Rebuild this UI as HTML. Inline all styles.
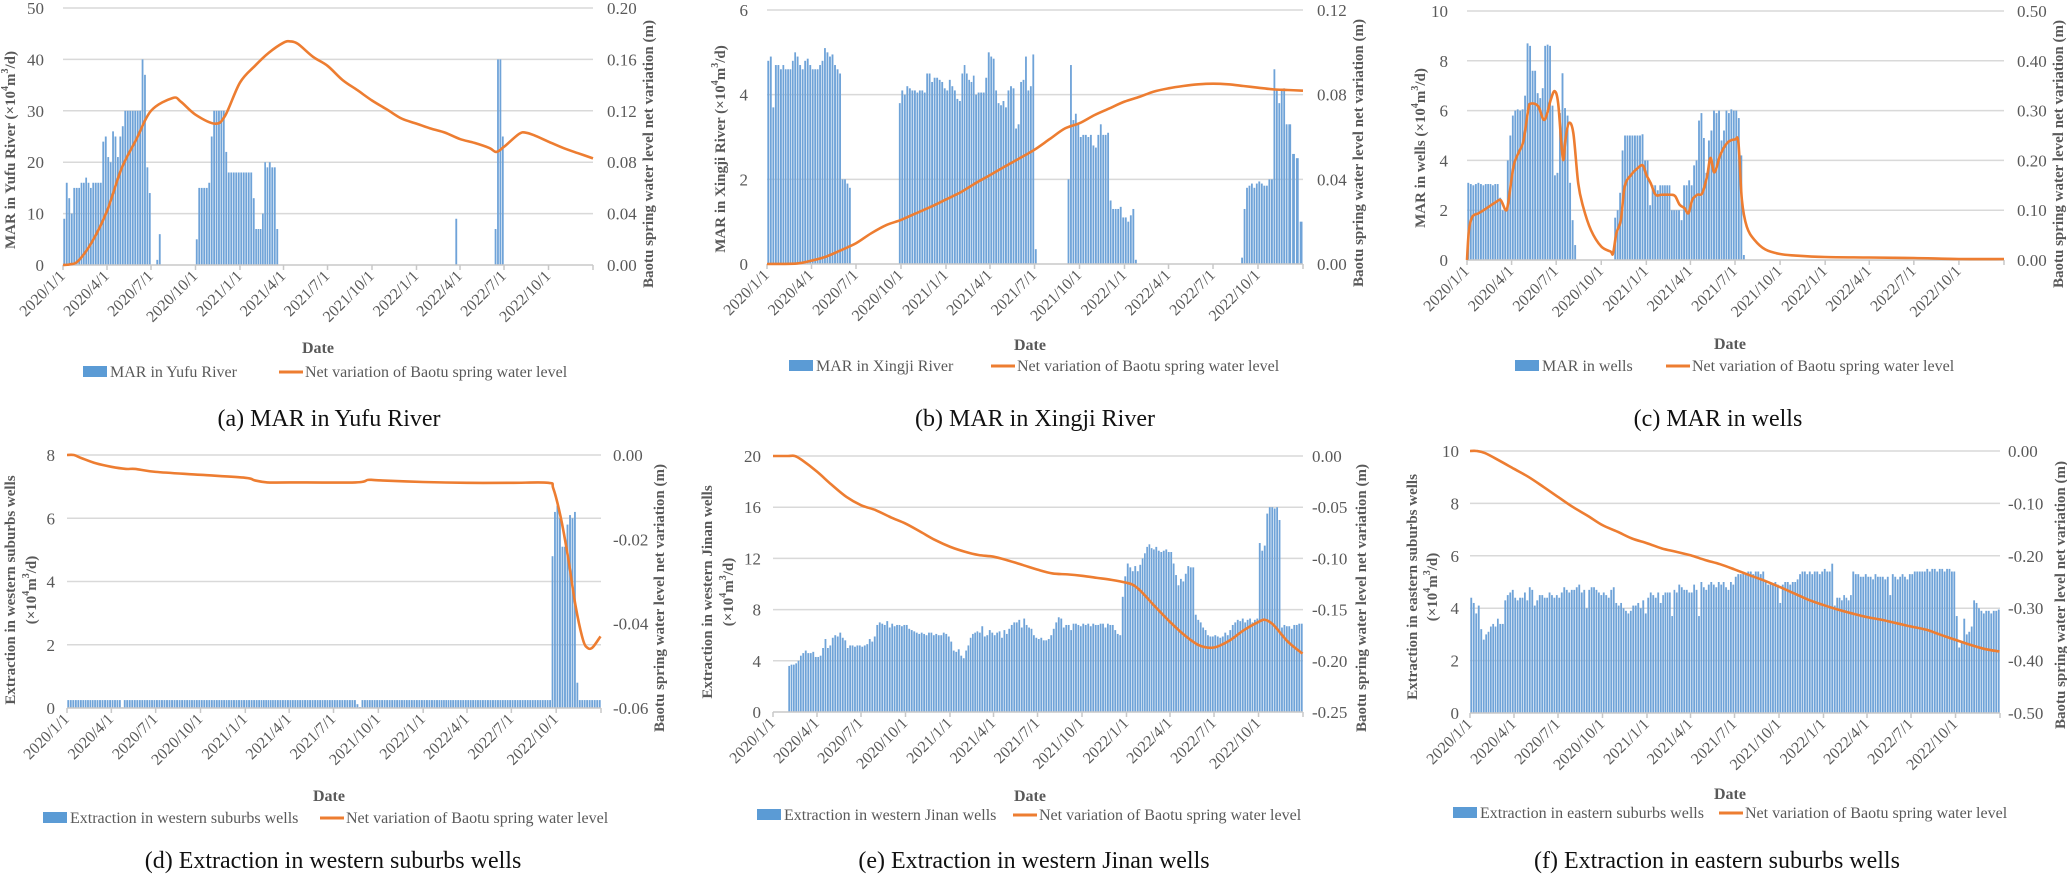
<!DOCTYPE html>
<html><head><meta charset="utf-8"><style>
html,body{margin:0;padding:0;background:#fff;}
svg{display:block;font-family:"Liberation Serif","DejaVu Serif",serif;}
svg text{font-family:"Liberation Serif","DejaVu Serif",serif;}
</style></head><body>
<svg id="fig" width="2067" height="875" viewBox="0 0 2067 875" font-family="Liberation Serif, serif" xmlns="http://www.w3.org/2000/svg"></svg>
<script>
// ---------- shared categories ----------
const tickLabels = ["2020/1/1","2020/4/1","2020/7/1","2020/10/1","2021/1/1","2021/4/1","2021/7/1","2021/10/1","2022/1/1","2022/4/1","2022/7/1","2022/10/1"];
const tickDates = ["2020-01-01","2020-04-01","2020-07-01","2020-10-01","2021-01-01","2021-04-01","2021-07-01","2021-10-01","2022-01-01","2022-04-01","2022-07-01","2022-10-01","2023-01-01"];

// ---------- (a) MAR in Yufu River: bars per month (36 months) ----------
const aBars = [
[9,16,13,10,15,15],[15,16,16,17,16,15],[16,16,16,16,24,25],[21,20,26,25,21,25],[27,30,30,30,30,30],[30,30,40,37,19,14],
[0,0,1,6,0,0],[],[],[5,15,15,15,15,16],[25,30,30,30,30,30],[22,18,18,18,18,18],
[18,18,18,18,18,13],[7,7,7,10,20,19],[20,19,19,7,0,0],[],[],[],
[],[],[],[],[],[],
[],[],[0,0,0,0,9,0],[],[],[0,0,7,40,40,25],
[],[],[],[],[],[]];
const aLineDates = ["2020-01-01","2020-01-15","2020-02-01","2020-03-01","2020-04-01","2020-05-01","2020-06-01","2020-07-01","2020-08-15","2020-09-01","2020-10-01","2020-11-10","2020-12-01","2021-01-01","2021-02-01","2021-03-01","2021-04-01","2021-04-15","2021-05-01","2021-06-01","2021-07-01","2021-08-01","2021-09-01","2021-10-01","2021-11-01","2021-12-01","2022-01-01","2022-02-01","2022-03-01","2022-04-01","2022-05-01","2022-06-01","2022-06-15","2022-07-01","2022-08-01","2022-08-15","2022-09-01","2022-10-01","2022-11-01","2022-12-01","2023-01-01"];
const aLineValues = [0,0.0005,0.003,0.018,0.042,0.075,0.098,0.12,0.13,0.127,0.117,0.110,0.116,0.142,0.155,0.165,0.173,0.174,0.172,0.162,0.155,0.144,0.136,0.128,0.121,0.114,0.110,0.106,0.103,0.098,0.095,0.091,0.088,0.092,0.102,0.103,0.101,0.096,0.091,0.087,0.083];

// ---------- (b) MAR in Xingji River ----------
const bBars = [
[4.8,4.9,3.7,4.7,4.7,4.6],[4.7,4.6,4.6,4.6,4.8,5.0],[4.9,4.7,4.6,4.8,4.85,4.7],[4.6,4.6,4.6,4.7,4.8,5.1],[5.0,4.9,4.95,4.7,4.6,4.5],[2.0,2.0,1.9,1.8,0,0],
[],[],[0,0,0,0,0,3.8],[4.1,4.0,4.2,4.15,4.1,4.1],[4.05,4.1,4.1,4.05,4.5,4.5],[4.3,4.4,4.4,4.35,4.3,4.15],
[4.1,4.35,4.2,4.1,3.9,3.85],[4.5,4.7,4.5,4.35,4.3,4.45],[4.0,4.05,4.05,4.05,4.4,5.0],[4.9,4.85,4.1,3.8,3.75,3.85],[3.7,4.1,4.2,4.15,3.2,3.3],[4.3,4.35,4.9,4.1,4.2,4.95],
[0.35,0,0,0,0,0],[],[0,2.0,4.7,3.4,3.55,3.3],[3.0,3.05,3.05,3.0,3.05,2.8],[2.75,3.05,3.3,3.05,3.05,3.1],[1.5,1.3,1.3,1.3,1.35,1.1],
[1.1,1.0,1.15,1.3,0.1,0],[],[],[],[],[],
[],[0,0,0,0,0,0.15],[1.3,1.8,1.85,1.9,1.8,1.9],[1.95,1.9,1.85,1.85,2.0,2.0],[4.6,4.1,3.8,4.1,4.15,3.3],[3.3,2.6,2.5,1.0]];
const bLineDates = ["2020-01-01","2020-03-01","2020-04-01","2020-05-01","2020-06-01","2020-07-01","2020-08-01","2020-09-01","2020-10-01","2020-11-01","2020-12-01","2021-01-01","2021-02-01","2021-03-01","2021-04-01","2021-05-01","2021-06-01","2021-07-01","2021-08-01","2021-09-01","2021-10-01","2021-11-01","2021-12-01","2022-01-01","2022-02-01","2022-03-01","2022-04-01","2022-05-01","2022-06-01","2022-07-01","2022-08-01","2022-09-01","2022-10-01","2022-11-01","2022-12-01","2023-01-01"];
const bLineValues = [0,0.0002,0.0016,0.0035,0.0066,0.0098,0.0145,0.0184,0.0208,0.024,0.027,0.0305,0.034,0.038,0.042,0.046,0.050,0.054,0.059,0.064,0.0665,0.0704,0.0735,0.0767,0.079,0.0814,0.083,0.0841,0.0849,0.0852,0.0849,0.0841,0.0833,0.0825,0.0822,0.0819];

// ---------- (c) MAR in wells ----------
const cBars = [
[3.1,3.05,3.0,3.05,3.1,3.05],[3.0,3.05,3.05,3.05,3.0,3.05],[3.05,2.5,2.0,2.0,4.0,5.0],[5.8,6.0,6.05,6.0,6.05,6.6],[8.7,8.6,7.6,7.6,6.7,6.5],[6.9,8.6,8.65,8.6,6.2,3.4],
[3.5,5.9,7.5,6.1,5.8,3.1],[1.6,0.6,0,0,0,0],[],[0,0,0,0,0,1.7],[2.0,2.7,4.4,5.0,5.0,5.0],[5.0,5.0,5.0,5.0,5.05,4.0],
[4.0,2.2,3.0,3.0,2.8,3.0],[3.0,3.0,3.0,3.0,2.0,2.0],[2.0,2.0,1.6,3.0,3.0,3.2],[3.0,3.8,4.0,5.6,5.9,4.9],[3.5,4.8,5.2,6.0,5.9,6.0],[4.8,5.2,6.0,5.9,6.05,6.0],
[6.0,5.7,4.2,0.2,0,0],[],[],[],[],[],
[],[],[],[],[],[],
[],[],[],[],[],[]];
const cLineDates = ["2020-01-01","2020-01-05","2020-01-12","2020-01-25","2020-02-10","2020-03-01","2020-03-10","2020-03-20","2020-03-25","2020-04-05","2020-04-15","2020-04-25","2020-05-05","2020-05-10","2020-05-25","2020-06-05","2020-06-12","2020-06-20","2020-06-28","2020-07-05","2020-07-12","2020-07-16","2020-07-20","2020-07-27","2020-08-05","2020-08-15","2020-08-25","2020-09-10","2020-10-01","2020-10-20","2020-10-25","2020-11-01","2020-11-10","2020-11-18","2020-12-01","2020-12-15","2020-12-25","2021-01-01","2021-01-10","2021-01-20","2021-02-01","2021-02-20","2021-03-01","2021-03-10","2021-03-20","2021-03-28","2021-04-05","2021-04-15","2021-04-25","2021-05-05","2021-05-12","2021-05-20","2021-06-01","2021-06-15","2021-07-01","2021-07-08","2021-07-15","2021-07-25","2021-08-10","2021-09-01","2021-10-01","2021-11-01","2022-01-01","2022-04-01","2022-07-01","2022-10-01","2023-01-01"];
const cLineValues = [0,0.06,0.087,0.094,0.104,0.117,0.12,0.10,0.114,0.188,0.215,0.238,0.302,0.314,0.309,0.282,0.292,0.322,0.339,0.315,0.228,0.201,0.242,0.275,0.255,0.154,0.107,0.06,0.027,0.017,0.013,0.054,0.08,0.148,0.171,0.185,0.19,0.171,0.154,0.131,0.131,0.131,0.128,0.111,0.104,0.094,0.121,0.131,0.134,0.168,0.205,0.176,0.211,0.235,0.242,0.235,0.121,0.067,0.04,0.021,0.012,0.009,0.006,0.005,0.004,0.002,0.002];

// ---------- (d) Extraction in western suburbs wells ----------
const q = 0.25;
const dBars = [
[q,q,q,q,q,q],[q,q,q,q,q,q],[q,q,q,q,q,q],[q,q,q,q,0.02,q],[q,q,q,q,q,q],[q,q,q,q,q,q],
[q,q,q,q,q,q],[q,q,q,q,q,q],[q,q,q,q,q,q],[q,q,q,q,q,q],[q,q,q,q,q,q],[q,q,q,q,q,q],
[q,q,q,q,q,q],[q,q,q,q,q,q],[q,q,q,q,q,q],[q,q,q,q,q,q],[q,q,q,q,q,q],[q,q,q,q,q,q],
[q,q,q,q,q,q],[q,q,q,0.12,0.03,q],[q,q,q,q,q,q],[q,q,q,q,q,q],[q,q,q,q,q,q],[q,q,q,q,q,q],
[q,q,q,q,q,q],[q,q,q,q,q,q],[q,q,q,q,q,q],[q,q,q,q,q,q],[q,q,q,q,q,q],[q,q,q,q,q,q],
[q,q,q,q,q,q],[q,q,q,q,q,q],[q,q,q,q,4.8,6.2],[6.4,6.0,5.1,5.1,5.8,6.1],[6.0,6.2,0.8,q,q,q],[q,q,q,q,q,q]];
const dLineDates = ["2020-01-01","2020-01-15","2020-02-01","2020-03-01","2020-04-01","2020-05-01","2020-05-20","2020-07-01","2020-10-01","2021-01-01","2021-01-20","2021-02-15","2021-04-01","2021-08-15","2021-09-10","2021-10-01","2022-01-01","2022-04-01","2022-07-01","2022-09-15","2022-09-25","2022-10-10","2022-10-25","2022-11-10","2022-11-25","2022-12-05","2022-12-15","2022-12-31"];
const dLineValues = [0,0,-0.0008,-0.002,-0.0028,-0.0033,-0.0033,-0.004,-0.0047,-0.0054,-0.006,-0.0065,-0.0065,-0.0065,-0.0059,-0.006,-0.0064,-0.0066,-0.0066,-0.0066,-0.0079,-0.0146,-0.024,-0.0359,-0.0438,-0.0458,-0.0456,-0.043];

// ---------- (e) Extraction in western Jinan wells ----------
const eBars = [
[],[3.6,3.7,3.7,3.8,4.0,4.4],[4.6,4.8,4.6,4.6,4.7,4.3],[4.3,4.4,5.0,5.7,5.0,5.2],[5.8,6.0,5.9,6.2,5.8,5.6],[5.0,5.2,5.2,5.1,5.2,5.2],
[5.1,5.2,5.3,5.7,5.5,5.9],[6.8,7.0,6.9,6.8,7.1,6.6],[6.9,6.7,6.8,6.8,6.7,6.8],[6.8,6.5,6.4,6.3,6.2,6.1],[6.2,6.1,6.0,6.2,6.2,6.0],[6.1,6.0,6.0,6.2,6.1,5.9],
[5.5,4.8,4.7,4.9,4.4,4.2],[4.8,5.2,5.8,6.1,6.2,6.3],[6.2,6.7,5.9,6.0,6.4,6.2],[6.0,6.2,6.3,5.8,6.4,6.1],[6.5,6.8,7.0,7.0,7.2,6.6],[7.3,6.8,6.6,6.5,6.0,5.8],
[5.7,5.8,5.6,5.6,5.7,6.0],[6.5,7.0,7.4,7.3,6.6,6.8],[6.8,6.4,6.9,6.9,6.8,6.7],[6.9,6.8,6.9,6.7,6.9,6.8],[6.8,6.9,6.9,6.6,6.9,6.8],[6.8,6.4,6.1,6.0,9.0,10.6],
[11.6,11.3,11.0,11.4,11.0,11.5],[12.0,12.4,12.9,13.1,12.8,12.7],[12.9,12.6,12.5,12.6,12.7,12.5],[12.5,11.6,10.7,9.9,10.4,10.2],[10.8,11.4,11.3,11.3,7.6,7.2],[7.0,6.6,6.4,6.0,5.9,5.9],
[6.0,5.9,5.8,5.9,6.2,6.0],[6.4,6.8,7.0,7.2,7.1,7.3],[7.0,7.2,7.3,7.0,7.2,7.3],[13.2,12.6,13.0,15.5,16.0,16.0],[15.9,16.0,15.0,6.6,6.8,6.7],[6.7,6.5,6.8,6.8,6.9,6.9]];
const eLineDates = ["2020-01-01","2020-02-01","2020-02-15","2020-03-01","2020-04-01","2020-05-01","2020-06-01","2020-07-01","2020-08-01","2020-09-01","2020-10-01","2020-11-01","2020-12-01","2021-01-01","2021-02-01","2021-03-01","2021-04-01","2021-05-01","2021-06-01","2021-07-01","2021-08-01","2021-09-01","2021-10-01","2021-11-01","2021-12-01","2022-01-01","2022-01-15","2022-02-01","2022-03-01","2022-04-01","2022-05-01","2022-06-01","2022-07-01","2022-08-01","2022-09-01","2022-10-01","2022-10-15","2022-11-01","2022-12-01","2022-12-31"];
const eLineValues = [0,0,0,-0.004,-0.0153,-0.028,-0.040,-0.048,-0.053,-0.060,-0.066,-0.074,-0.082,-0.0886,-0.0935,-0.0967,-0.0983,-0.102,-0.1065,-0.111,-0.1147,-0.1156,-0.117,-0.119,-0.121,-0.1238,-0.126,-0.1326,-0.147,-0.162,-0.175,-0.185,-0.187,-0.1805,-0.170,-0.162,-0.160,-0.165,-0.1815,-0.193];

// ---------- (f) Extraction in eastern suburbs wells ----------
const fBars = [
[4.4,4.2,3.8,4.1,3.2,2.8],[3.0,3.1,3.3,3.4,3.3,3.6],[3.4,3.4,4.3,4.5,4.6,4.7],[4.4,4.3,4.4,4.4,4.6,4.3],[4.8,4.7,4.1,4.3,4.5,4.5],[4.4,4.4,4.6,4.5,4.4,4.5],
[4.4,4.6,4.8,4.7,4.6,4.7],[4.7,4.8,4.9,4.6,4.7,4.0],[4.7,4.8,4.8,4.7,4.6,4.5],[4.6,4.5,4.4,4.7,4.8,4.2],[4.1,4.2,4.0,3.9,3.8,3.9],[4.1,4.1,4.2,4.0,4.3,3.8],
[4.4,4.6,4.5,4.4,4.6,4.2],[4.5,4.6,4.6,4.6,3.7,4.7],[4.6,4.9,4.8,4.7,4.7,4.6],[4.6,4.9,4.7,3.7,5.0,4.8],[4.7,4.9,5.0,4.9,4.8,5.0],[4.9,5.0,4.8,4.7,5.0,4.9],
[5.2,5.3,5.3,5.4,5.3,5.4],[5.4,5.3,5.4,5.4,5.3,5.4],[5.0,4.9,5.0,4.9,5.0,4.9],[4.2,4.9,5.0,5.0,4.9,5.0],[5.0,5.1,5.3,5.4,5.4,5.3],[5.4,5.3,5.4,5.4,5.3,5.4],
[5.5,5.4,5.4,5.7,4.1,4.4],[4.4,4.3,4.5,4.4,4.3,4.5],[5.4,5.3,5.3,5.2,5.2,5.3],[5.2,5.2,5.1,5.3,5.2,5.2],[5.2,5.1,5.2,4.5,5.3,5.2],[5.1,5.2,5.3,5.2,5.1,5.3],
[5.3,5.4,5.4,5.4,5.4,5.4],[5.5,5.4,5.5,5.5,5.4,5.5],[5.5,5.4,5.5,5.5,5.4,5.4],[3.7,2.5,2.7,3.6,3.0,3.1],[3.3,4.3,4.2,4.0,3.9,3.8],[3.9,3.9,3.8,3.9,3.9,3.95]];
const fLineDates = ["2020-01-01","2020-01-15","2020-02-01","2020-03-01","2020-04-01","2020-05-01","2020-06-01","2020-07-01","2020-08-01","2020-09-01","2020-10-01","2020-11-01","2020-12-01","2021-01-01","2021-02-01","2021-03-01","2021-04-01","2021-05-01","2021-06-01","2021-07-01","2021-08-01","2021-09-01","2021-10-01","2021-11-01","2021-12-01","2022-01-01","2022-02-01","2022-03-01","2022-04-01","2022-05-01","2022-06-01","2022-07-01","2022-08-01","2022-09-01","2022-10-01","2022-11-01","2022-12-01","2022-12-31"];
const fLineValues = [0,0,-0.004,-0.018,-0.034,-0.0495,-0.0685,-0.0876,-0.107,-0.124,-0.1415,-0.154,-0.167,-0.176,-0.186,-0.192,-0.199,-0.208,-0.216,-0.226,-0.237,-0.2475,-0.259,-0.2716,-0.284,-0.294,-0.303,-0.31,-0.317,-0.322,-0.3286,-0.335,-0.341,-0.351,-0.3604,-0.37,-0.378,-0.3826];

// ---------- rendering ----------
const NS = "http://www.w3.org/2000/svg";
const FONT = '"Liberation Serif", "DejaVu Serif", serif';
const svg = document.getElementById('fig');
function mk(tag, attrs, parent, txt){
  const e = document.createElementNS(NS, tag);
  for (const k in attrs) e.setAttribute(k, attrs[k]);
  if (tag === 'text') e.style.fontFamily = FONT;
  if (txt !== undefined) e.textContent = txt;
  (parent || svg).appendChild(e);
  return e;
}
function dayOf(s){ const p = s.split('-').map(Number); return (Date.UTC(p[0],p[1]-1,p[2]) - Date.UTC(2020,0,1)) / 864e5; }
const TOTAL = dayOf("2023-01-01");

const panels = [
 {id:'a', bars:aBars, ld:aLineDates, lv:aLineValues, L:63, R:593, T:8, B:265, lmax:50, lstep:10, rmin:0, rmax:0.2, rstep:0.04, llx:44, rlx:607,
  ltitle:[["MAR in Yufu River (×10","4","m","3","/d)"]], ltx:[11], lty:150, rtx:649, rty:154, dateX:318, dateY:353,
  leg:{sx:83, lx:279, y:372, barText:"MAR in Yufu River"}, cap:"(a) MAR in Yufu River", capX:329, capY:426},
 {id:'b', bars:bBars, ld:bLineDates, lv:bLineValues, L:767, R:1303, T:10, B:264, lmax:6, lstep:2, rmin:0, rmax:0.12, rstep:0.04, llx:748, rlx:1317,
  ltitle:[["MAR in Xingji River (×10","4","m","3","/d)"]], ltx:[721], lty:149, rtx:1359, rty:153, dateX:1030, dateY:350,
  leg:{sx:789, lx:991, y:366, barText:"MAR in Xingji River"}, cap:"(b) MAR in Xingji River", capX:1035, capY:426},
 {id:'c', bars:cBars, ld:cLineDates, lv:cLineValues, L:1467, R:2004, T:11, B:260, lmax:10, lstep:2, rmin:0, rmax:0.5, rstep:0.1, llx:1448, rlx:2017,
  ltitle:[["MAR in wells (×10","4","m","3","/d)"]], ltx:[1421], lty:148, rtx:2059, rty:154, dateX:1730, dateY:349,
  leg:{sx:1515, lx:1666, y:366, barText:"MAR in wells"}, cap:"(c) MAR in wells", capX:1718, capY:426},
 {id:'d', bars:dBars, ld:dLineDates, lv:dLineValues, L:67, R:601, T:455, B:708, lmax:8, lstep:2, rmin:-0.06, rmax:0, rstep:0.02, llx:55, rlx:613,
  ltitle:[["Extraction in western suburbs wells"],["(×10","4","m","3","/d)"]], ltx:[11,32], lty:590, rtx:660, rty:598, dateX:329, dateY:801,
  leg:{sx:43, lx:320, y:818, barText:"Extraction in western suburbs wells"}, cap:"(d) Extraction in western suburbs wells", capX:333, capY:868},
 {id:'e', bars:eBars, ld:eLineDates, lv:eLineValues, L:773, R:1303, T:456, B:712, lmax:20, lstep:4, rmin:-0.25, rmax:0, rstep:0.05, llx:761, rlx:1312,
  ltitle:[["Extraction in western Jinan wells"],["(×10","4","m","3","/d)"]], ltx:[708,729], lty:592, rtx:1362, rty:598, dateX:1030, dateY:801,
  leg:{sx:757, lx:1013, y:815, barText:"Extraction in western Jinan wells"}, cap:"(e) Extraction in western Jinan wells", capX:1034, capY:868},
 {id:'f', bars:fBars, ld:fLineDates, lv:fLineValues, L:1470, R:2000, T:451, B:713, lmax:10, lstep:2, rmin:-0.5, rmax:0, rstep:0.1, llx:1459, rlx:2008,
  ltitle:[["Extraction in eastern suburbs wells"],["(×10","4","m","3","/d)"]], ltx:[1413,1433], lty:587, rtx:2061, rty:595, dateX:1730, dateY:799,
  leg:{sx:1453, lx:1719, y:813, barText:"Extraction in eastern suburbs wells"}, cap:"(f) Extraction in eastern suburbs wells", capX:1717, capY:868}
];

function addTitleParts(t, parts){
  parts.forEach((s, i) => {
    const sup = (i % 2 === 1);
    mk('tspan', sup ? {'font-size':'10', dy:'-6'} : (i > 0 ? {dy:'6'} : {}), t, s);
  });
}

panels.forEach(p => {
  const g = mk('g', {});
  
  
  const W = p.R - p.L, H = p.B - p.T;
  const xOf = d => p.L + d / TOTAL * W;
  const yL = v => p.B - v / p.lmax * H;
  const yR = v => p.B - (v - p.rmin) / (p.rmax - p.rmin) * H;

  for (let v = 0; v <= p.lmax + 1e-9; v += p.lstep) {
    const y = yL(v);
    if (v > 0) {
      const gl = mk('line', {x1:p.L, x2:p.R, y1:y, y2:y, stroke:'#d9d9d9', 'stroke-width':1.5}, g);
      
      
    }
    const t = mk('text', {x:p.llx, y:y+6, 'text-anchor':'end', 'font-size':17, fill:'#595959'}, g, String(Math.round(v)));
    
    
  }
  const nR = Math.round((p.rmax - p.rmin) / p.rstep);
  for (let i = 0; i <= nR; i++) {
    const v = p.rmin + i * p.rstep;
    const t = mk('text', {x:p.rlx, y:yR(v)+6, 'font-size':17, fill:'#595959'}, g, (Math.abs(v) < 1e-9 ? 0 : v).toFixed(2));
    
    
  }
  const bg = mk('g', {}, g);
  
  
  p.bars.forEach((vals, mi) => {
    const yr = 2020 + Math.floor(mi / 12), mo = mi % 12;
    const s = (Date.UTC(yr, mo, 1) - Date.UTC(2020,0,1)) / 864e5;
    const e = (Date.UTC(yr, mo + 1, 1) - Date.UTC(2020,0,1)) / 864e5;
    const n = vals.length;
    vals.forEach((v, k) => {
      if (!(v > 0)) return;
      const c = s + (k + 0.5) * (e - s) / n;
      const bw = (e - s) / n / TOTAL * W * 0.74;
      const r = mk('rect', {x:xOf(c) - bw/2, y:yL(v), width:bw, height:p.B - yL(v), fill:'#6fa3d8'}, bg);
      
      
    });
  });
  const ax = mk('line', {x1:p.L, x2:p.R, y1:p.B, y2:p.B, stroke:'#c8c8c8', 'stroke-width':1.5}, g);
  
  
  tickDates.forEach((d, i) => {
    const x = xOf(dayOf(d));
    const tk = mk('line', {x1:x, x2:x, y1:p.B, y2:p.B+5, stroke:'#c8c8c8', 'stroke-width':1.5}, g);
    
    
    if (i < tickLabels.length) {
      const t = mk('text', {x:x+3, y:p.B+12, 'text-anchor':'end', 'font-size':16, fill:'#595959', transform:`rotate(-45 ${x+3} ${p.B+12})`}, g, tickLabels[i]);
      
      
    }
  });
  const pts = p.ld.map((d, i) => [xOf(dayOf(d)), yR(p.lv[i])]);
  let path = `M${pts[0][0].toFixed(2)},${pts[0][1].toFixed(2)}`;
  for (let i = 0; i < pts.length - 1; i++) {
    const p0 = pts[Math.max(0, i-1)], p1 = pts[i], p2 = pts[i+1], p3 = pts[Math.min(pts.length-1, i+2)];
    const c1 = [p1[0] + (p2[0]-p0[0])/6, p1[1] + (p2[1]-p0[1])/6];
    const c2 = [p2[0] - (p3[0]-p1[0])/6, p2[1] - (p3[1]-p1[1])/6];
    path += ` C${c1[0].toFixed(2)},${c1[1].toFixed(2)} ${c2[0].toFixed(2)},${c2[1].toFixed(2)} ${p2[0].toFixed(2)},${p2[1].toFixed(2)}`;
  }
  const ln = mk('path', {d:path, fill:'none', stroke:'#ed7d31', 'stroke-width':2.6, 'stroke-linejoin':'round'}, g);
  
  

  p.ltitle.forEach((parts, i) => {
    const x = p.ltx[i];
    const t = mk('text', {x:x, y:p.lty, 'text-anchor':'middle', 'font-size':15, 'font-weight':'bold', fill:'#595959', transform:`rotate(-90 ${x} ${p.lty})`, 'dominant-baseline':'central'}, g);
    addTitleParts(t, parts);
    
    
  });
  const rt = mk('text', {x:p.rtx, y:p.rty, 'text-anchor':'middle', 'font-size':15, 'font-weight':'bold', fill:'#595959', transform:`rotate(-90 ${p.rtx} ${p.rty})`, 'dominant-baseline':'central'}, g, 'Baotu spring water level net variation (m)');
  
  
  const dt = mk('text', {x:p.dateX, y:p.dateY, 'text-anchor':'middle', 'font-size':16, 'font-weight':'bold', fill:'#595959'}, g, 'Date');
  
  
  const lg = mk('g', {}, g);
  
  
  const sw = mk('rect', {x:p.leg.sx, y:p.leg.y-6, width:24, height:11, fill:'#5b9bd5'}, lg);
  
  
  const t1 = mk('text', {x:p.leg.sx+27, y:p.leg.y+5, 'font-size':16, fill:'#595959'}, lg, p.leg.barText);
  
  
  const ls = mk('line', {x1:p.leg.lx, x2:p.leg.lx+24, y1:p.leg.y, y2:p.leg.y, stroke:'#ed7d31', 'stroke-width':3}, lg);
  
  
  const t2 = mk('text', {x:p.leg.lx+26, y:p.leg.y+5, 'font-size':16, fill:'#595959'}, lg, 'Net variation of Baotu spring water level');
  
  
  const cp = mk('text', {x:p.capX, y:p.capY, 'text-anchor':'middle', 'font-size':24, fill:'#111'}, g, p.cap);
  
  
});
</script>
</body></html>
